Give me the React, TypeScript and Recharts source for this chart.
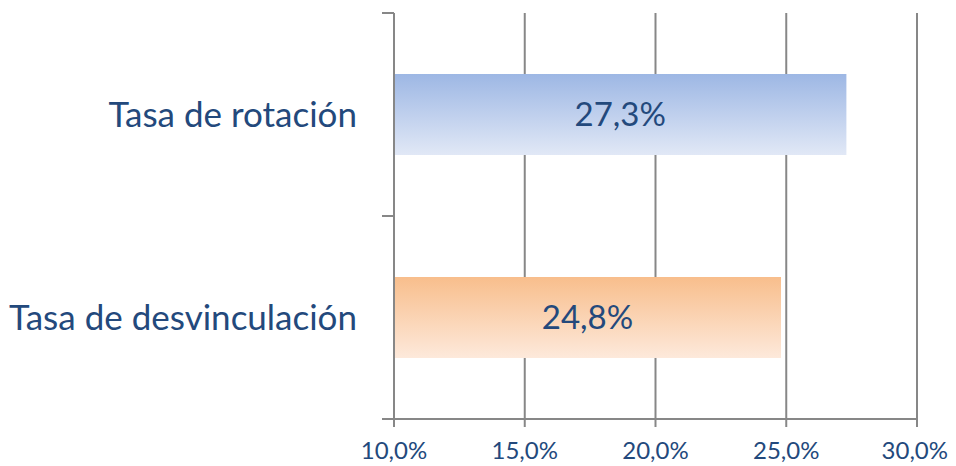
import { Bar, BarChart, CartesianGrid, XAxis, YAxis, Cell, LabelList } from "recharts";

const categories = ["Tasa de rotación", "Tasa de desvinculación"];
const values = [27.3, 24.8];
const xTicks = [10, 15, 20, 25, 30];

const data = categories.map((name, i) => ({ name, value: values[i] }));

const textColor = "#23497c";
const lineColor = "#878787";
const font = "Lato, 'Open Sans', sans-serif";
const labelGap = 37;

const fmt = (v: number) => v.toFixed(1).replace(".", ",") + "%";

const CategoryTick = (props: any) => {
  const { x, y, payload, index, visibleTicksCount } = props;
  const half = payload?.offset ?? 101.5;
  const axisX = x + labelGap;
  return (
    <g>
      <line x1={axisX - 12} x2={axisX} y1={y - half} y2={y - half} stroke={lineColor} strokeWidth={2} />
      {index === visibleTicksCount - 1 && (
        <line x1={axisX - 12} x2={axisX} y1={y + half} y2={y + half} stroke={lineColor} strokeWidth={2} />
      )}
      <text x={x} y={y} dy="0.36em" textAnchor="end" fill={textColor} fontSize={35} fontFamily={font}>
        {payload.value}
      </text>
    </g>
  );
};

export default function App() {
  return (
    <div style={{ width: 940, height: 458, background: "#fff" }}>
      <BarChart
        width={940}
        height={458}
        data={data}
        layout="vertical"
        margin={{ top: 5, right: 31, left: 0, bottom: 8 }}
        barCategoryGap="30%"
      >
        <defs>
          <linearGradient id="gradBlue" x1="0" y1="0" x2="0" y2="1">
            <stop offset="0%" stopColor="#9db7e4" />
            <stop offset="100%" stopColor="#e1e8f6" />
          </linearGradient>
          <linearGradient id="gradOrange" x1="0" y1="0" x2="0" y2="1">
            <stop offset="0%" stopColor="#f8be8c" />
            <stop offset="100%" stopColor="#fde9db" />
          </linearGradient>
        </defs>
        <CartesianGrid horizontal={false} stroke={lineColor} strokeWidth={2} />
        <XAxis
          type="number"
          domain={[10, 30]}
          ticks={xTicks}
          tickFormatter={fmt}
          height={39}
          tickSize={8}
          tickMargin={15}
          stroke={lineColor}
          axisLine={{ stroke: lineColor, strokeWidth: 2 }}
          tickLine={{ stroke: lineColor, strokeWidth: 2 }}
          tick={{ fill: textColor, fontSize: 24, fontFamily: font }}
          allowDataOverflow
        />
        <YAxis
          type="category"
          dataKey="name"
          width={386}
          tickSize={0}
          tickMargin={labelGap}
          tickLine={false}
          axisLine={{ stroke: lineColor, strokeWidth: 2 }}
          tick={<CategoryTick />}
        />
        <Bar dataKey="value" isAnimationActive={false}>
          <Cell fill="url(#gradBlue)" />
          <Cell fill="url(#gradOrange)" />
          <LabelList
            dataKey="value"
            position="center"
            formatter={(v: any) => fmt(Number(v))}
            style={{ fill: textColor, fontSize: 33, fontFamily: font }}
          />
        </Bar>
      </BarChart>
    </div>
  );
}
